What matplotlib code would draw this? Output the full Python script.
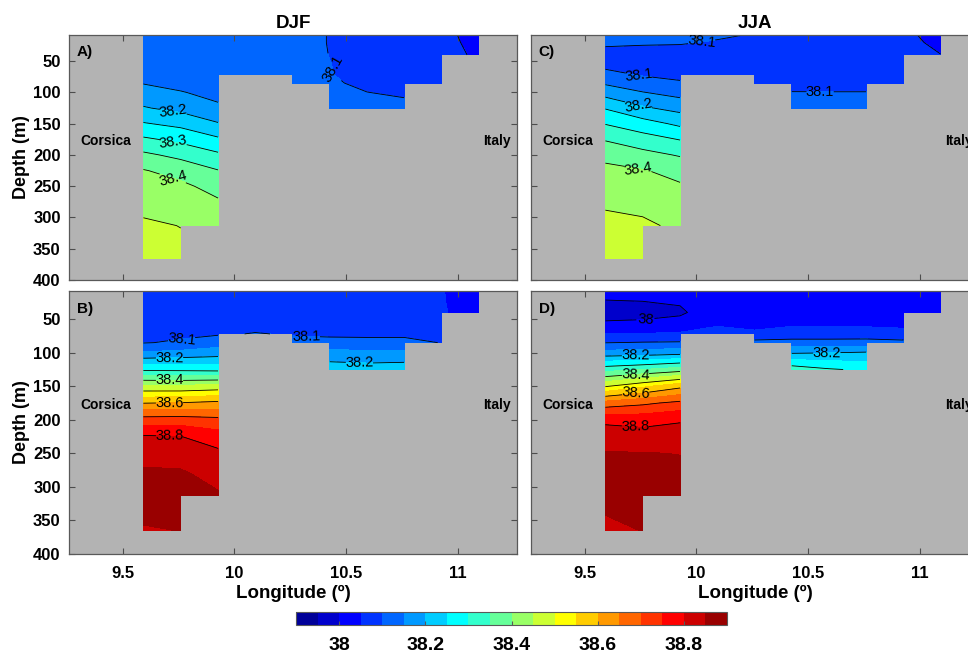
import numpy as np
import matplotlib
matplotlib.use('Agg')
import matplotlib.pyplot as plt
from matplotlib.colors import ListedColormap

plt.rcParams['font.family'] = ['Liberation Sans', 'DejaVu Sans']

nan = np.nan

# section nodes (longitude, degrees E) and depth levels (m)
lon = [9.593, 9.760, 9.927, 10.093, 10.260, 10.427, 10.593, 10.760, 10.927, 11.093]
depth = [8, 20, 40, 55, 72, 85, 100, 125, 150, 175, 200, 225, 250, 280, 313, 340, 365]

# salinity profiles, one row per longitude node (top -> bottom, missing below seabed)
salt_djf_a = [
    [38.120, 38.120, 38.125, 38.130, 38.138, 38.148, 38.169, 38.204, 38.254, 38.308, 38.360, 38.403, 38.418, 38.437, 38.458, 38.468, 38.478],
    [38.115, 38.117, 38.120, 38.125, 38.130, 38.140, 38.152, 38.186, 38.237, 38.288, 38.337, 38.382, 38.410, 38.428, 38.449, 38.456, 38.462],
    [38.115, 38.117, 38.120, 38.125, 38.130, 38.135, 38.140, 38.156, 38.204, 38.258, 38.309, 38.352, 38.383, 38.410, 38.430],
    [38.120, 38.120, 38.122, 38.125, 38.128],
    [38.110, 38.110, 38.112, 38.113, 38.115, 38.117],
    [38.099, 38.099, 38.0995, 38.1005, 38.101, 38.102, 38.104, 38.107],
    [38.085, 38.085, 38.087, 38.090, 38.093, 38.097, 38.1002, 38.105],
    [38.075, 38.075, 38.078, 38.082, 38.087, 38.093, 38.098, 38.104],
    [38.065, 38.066, 38.068, 38.070, 38.075, 38.080],
    [38.030, 38.035, 38.042],
]
salt_djf_b = [
    [38.085, 38.086, 38.088, 38.090, 38.094, 38.098, 38.156, 38.290, 38.461, 38.599, 38.722, 38.806, 38.833, 38.858, 38.865, 38.860, 38.845],
    [38.080, 38.082, 38.085, 38.088, 38.093, 38.105, 38.164, 38.288, 38.460, 38.603, 38.724, 38.801, 38.829, 38.856, 38.865, 38.860, 38.851],
    [38.080, 38.082, 38.085, 38.088, 38.095, 38.128, 38.175, 38.284, 38.469, 38.614, 38.714, 38.774, 38.811, 38.834, 38.855],
    [38.075, 38.077, 38.080, 38.086, 38.102],
    [38.075, 38.077, 38.080, 38.085, 38.097, 38.110],
    [38.070, 38.072, 38.075, 38.080, 38.090, 38.118, 38.165, 38.230],
    [38.068, 38.070, 38.073, 38.078, 38.090, 38.115, 38.160, 38.225],
    [38.065, 38.067, 38.070, 38.075, 38.088, 38.118, 38.160, 38.230],
    [38.052, 38.052, 38.053, 38.070, 38.085, 38.098],
    [38.030, 38.032, 38.035],
]
salt_jja_c = [
    [38.115, 38.106, 38.088, 38.088, 38.114, 38.144, 38.180, 38.247, 38.298, 38.346, 38.388, 38.411, 38.427, 38.446, 38.462, 38.472, 38.480],
    [38.112, 38.104, 38.086, 38.084, 38.097, 38.121, 38.152, 38.207, 38.271, 38.321, 38.366, 38.403, 38.419, 38.438, 38.459, 38.467, 38.475],
    [38.110, 38.103, 38.085, 38.080, 38.090, 38.105, 38.133, 38.184, 38.240, 38.298, 38.346, 38.385, 38.405, 38.420, 38.440],
    [38.105, 38.097, 38.085, 38.080, 38.085],
    [38.098, 38.093, 38.085, 38.080, 38.080, 38.085],
    [38.090, 38.088, 38.085, 38.083, 38.085, 38.090, 38.101, 38.110],
    [38.085, 38.083, 38.080, 38.078, 38.080, 38.088, 38.101, 38.110],
    [38.080, 38.078, 38.075, 38.075, 38.078, 38.088, 38.101, 38.108],
    [38.062, 38.065, 38.068, 38.070, 38.072, 38.078],
    [38.030, 38.038, 38.051],
]
salt_jja_d = [
    [38.010, 38.002, 37.975, 38.005, 38.052, 38.099, 38.167, 38.330, 38.496, 38.670, 38.790, 38.824, 38.853, 38.860, 38.858, 38.851, 38.840],
    [38.015, 38.005, 37.975, 38.010, 38.052, 38.103, 38.172, 38.350, 38.540, 38.690, 38.782, 38.822, 38.852, 38.862, 38.860, 38.856, 38.851],
    [38.020, 38.010, 37.990, 38.020, 38.055, 38.105, 38.181, 38.375, 38.587, 38.713, 38.795, 38.823, 38.849, 38.860, 38.860],
    [38.030, 38.030, 38.040, 38.045, 38.060],
    [38.030, 38.030, 38.035, 38.040, 38.055, 38.120],
    [38.025, 38.027, 38.030, 38.040, 38.070, 38.120, 38.195, 38.330],
    [38.025, 38.027, 38.030, 38.040, 38.070, 38.120, 38.199, 38.305],
    [38.022, 38.024, 38.028, 38.038, 38.070, 38.122, 38.205, 38.292],
    [38.015, 38.018, 38.022, 38.035, 38.065, 38.115],
    [38.010, 38.012, 38.015],
]

panel_tags = ['A)', 'B)', 'C)', 'D)']
label_levels = [[38.1, 38.2, 38.3, 38.4],
                [38.1, 38.2, 38.4, 38.6, 38.8],
                [38.1, 38.2, 38.4],
                [38.0, 38.2, 38.4, 38.6, 38.8]]
label_spots = [
    [(10.428, 64), (9.726, 133), (9.726, 181), (9.726, 235)],
    [(9.764, 81), (10.322, 77), (9.71, 109), (10.56, 112), (9.71, 142), (9.71, 175), (9.71, 225)],
    [(10.024, 21), (9.743, 74), (9.74, 123), (9.74, 219), (10.554, 102)],
    [(9.772, 50), (9.728, 108), (9.728, 134), (9.728, 158), (9.728, 206), (10.584, 102)],
]
cbar_ticks = [38.0, 38.2, 38.4, 38.6, 38.8]


def matlab_jet(m):
    n = int(np.ceil(m / 4))
    u = np.r_[np.arange(1, n + 1) / n, np.ones(n - 1), np.arange(n, 0, -1) / n]
    g = int(np.ceil(n / 2)) - (m % 4 == 1) + np.arange(1, len(u) + 1)
    r = g + n
    b = g - n
    J = np.zeros((m, 3))
    r_ok = r[r <= m]
    g_ok = g[g <= m]
    b_ok = b[b >= 1]
    J[r_ok - 1, 0] = u[:len(r_ok)]
    J[g_ok - 1, 1] = u[:len(g_ok)]
    J[b_ok - 1, 2] = u[len(u) - len(b_ok):]
    return ListedColormap(J)


def to_grid(rows):
    out = np.full((len(depth), len(lon)), nan)
    for j, r in enumerate(rows):
        out[:len(r), j] = r
    return np.ma.masked_invalid(out)


def fmt(v):
    return ('%.2f' % v).rstrip('0').rstrip('.')


cmap = matlab_jet(20)
fill_levels = np.round(np.arange(37.9, 38.9001, 0.05), 2)

W, H = 968, 654
fig = plt.figure(figsize=(W / 100, H / 100), dpi=100)


def px_axes(left, top, width, height):
    return fig.add_axes([left / W, 1 - (top + height) / H, width / W, height / H])


boxes = [(69, 35, 448, 245), (69, 291, 448, 263), (531, 35, 448, 245), (531, 291, 448, 263)]
fields = [salt_djf_a, salt_djf_b, salt_jja_c, salt_jja_d]

cf = None
for k in range(4):
    ax = px_axes(*boxes[k])
    ax.set_facecolor('#b3b3b3')
    Z = to_grid(fields[k])
    cf = ax.contourf(lon, depth, Z, levels=fill_levels, cmap=cmap, vmin=37.9, vmax=38.9,
                     corner_mask=False)
    line_levels = fill_levels if k in (0, 2) else fill_levels[::2]
    with_lab = [l for l in line_levels if np.isclose(l, label_levels[k]).any()]
    no_lab = [l for l in line_levels if not np.isclose(l, label_levels[k]).any()]
    ax.contour(lon, depth, Z, levels=no_lab, colors='k', linewidths=0.6, corner_mask=False)
    cs = ax.contour(lon, depth, Z, levels=with_lab, colors='k', linewidths=0.6,
                    corner_mask=False)
    ax.clabel(cs, manual=label_spots[k], inline=True, inline_spacing=4,
              fontsize=10.5, fmt=fmt)

    ax.set_xlim(9.26, 11.265)
    ax.set_ylim(400, 8)
    ax.set_xticks([9.5, 10, 10.5, 11])
    ax.set_xticklabels(['9.5', '10', '10.5', '11'])
    ax.set_yticks(range(50, 401, 50))
    ax.tick_params(direction='in', top=True, right=True, length=4, width=0.8,
                   color='0.3', labelsize=12)
    ax.tick_params(axis='x', pad=9)
    ax.tick_params(axis='y', pad=6)
    for sp in ax.spines.values():
        sp.set_color('0.35')
        sp.set_linewidth(0.9)
    plt.setp(ax.get_xticklabels() + ax.get_yticklabels(), fontweight='bold')
    if k in (0, 2):
        ax.tick_params(labelbottom=False)
    else:
        ax.set_xlabel('Longitude (º)', fontsize=13.5, fontweight='bold')
        ax.xaxis.set_label_coords(0.5, -0.118)
    if k in (2, 3):
        ax.tick_params(labelleft=False)
    else:
        ax.set_ylabel('Depth (m)', fontsize=13, fontweight='bold')
        ax.yaxis.set_label_coords(-0.086, 0.5)
    if k == 0:
        ax.set_title('DJF', fontsize=13.5, fontweight='bold', pad=5)
    if k == 2:
        ax.set_title('JJA', fontsize=13.5, fontweight='bold', pad=5)

    ax.text(9.295, 35, panel_tags[k], fontsize=11, fontweight='bold', ha='left', va='center')
    ax.text(9.425, 178, 'Corsica', fontsize=10, fontweight='bold', ha='center', va='center')
    ax.text(11.115, 178, 'Italy', fontsize=10, fontweight='bold', ha='left', va='center')

cax = px_axes(296, 612, 431, 13)
cb = fig.colorbar(cf, cax=cax, orientation='horizontal', ticks=cbar_ticks)
cb.ax.set_xticklabels([fmt(t) for t in cbar_ticks])
cb.ax.tick_params(direction='in', length=3, color='0.35', labelsize=14, pad=9)
plt.setp(cb.ax.get_xticklabels(), fontweight='bold')
cb.outline.set_edgecolor('0.35')
cb.outline.set_linewidth(0.8)

fig.savefig('out.png', dpi=100)
